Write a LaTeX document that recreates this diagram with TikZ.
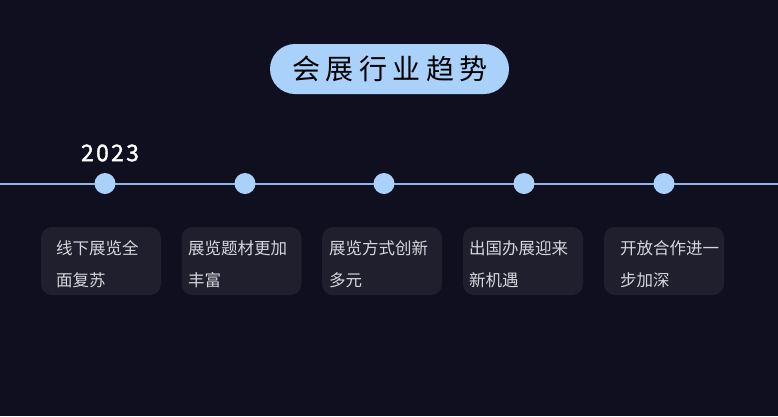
\documentclass[tikz,border=0pt]{standalone}
\usepackage{fontspec}
\setmainfont{Noto Sans CJK SC}
\newfontfamily\cjk{Noto Sans CJK SC}
\newfontfamily\cjktitle[LetterSpace=20]{Noto Sans CJK SC}
\newfontfamily\yearfont[LetterSpace=10,FakeBold=1.5]{Noto Sans CJK SC}
\definecolor{bgc}{HTML}{100F1F}
\definecolor{pill}{HTML}{A9D1FA}
\definecolor{linec}{HTML}{90B4E4}
\definecolor{boxc}{HTML}{1F1F2D}
\definecolor{txtc}{HTML}{D6D6DE}
\tikzset{
  dotnode/.style={circle,fill=pill,minimum size=21pt,inner sep=0pt},
  cardbox/.style={rectangle,rounded corners=11pt,fill=boxc,minimum width=120pt,minimum height=68pt,inner sep=0pt},
  cardtext/.style={anchor=north west,text=txtc,font=\cjk\fontsize{16.5}{32}\selectfont,align=left,inner sep=0pt},
}
\begin{document}
\begin{tikzpicture}[x=1pt,y=-1pt]
\useasboundingbox (0,0) rectangle (778,416);
\fill[bgc] (0,0) rectangle (778,416);
% title
\node[rectangle,rounded corners=25pt,fill=pill,minimum width=239pt,minimum height=50pt,inner sep=0pt] (title) at (389.5,69) {};
\node[font=\cjktitle\fontsize{28}{30}\selectfont,text=black] (titletext) at (390,69) {会展行业趋势};
% timeline
\coordinate (L) at (0,183.5);
\coordinate (R) at (778,183.5);
\draw[linec,line width=2pt] (L) -- (R);
\node[dotnode] (d1) at (105,183.5) {};
\node[dotnode] (d2) at (245,183.5) {};
\node[dotnode] (d3) at (384,183.5) {};
\node[dotnode] (d4) at (524,183.5) {};
\node[dotnode] (d5) at (664,183.5) {};
\node[font=\yearfont\fontsize{23}{25}\selectfont,text=white] (year) at (110,153) {2023};
% cards
\node[cardbox] (c1) at (101,261) {};
\node[cardbox] (c2) at (241.5,261) {};
\node[cardbox] (c3) at (382,261) {};
\node[cardbox] (c4) at (523,261) {};
\node[cardbox] (c5) at (664,261) {};
\node[cardtext] (t1) at (56,240.5) {线下展览全\\面复苏};
\node[cardtext] (t2) at (188,240.5) {展览题材更加\\丰富};
\node[cardtext] (t3) at (329,240.5) {展览方式创新\\多元};
\node[cardtext] (t4) at (469,240.5) {出国办展迎来\\新机遇};
\node[cardtext] (t5) at (620,240.5) {开放合作进一\\步加深};
\end{tikzpicture}
\end{document}
